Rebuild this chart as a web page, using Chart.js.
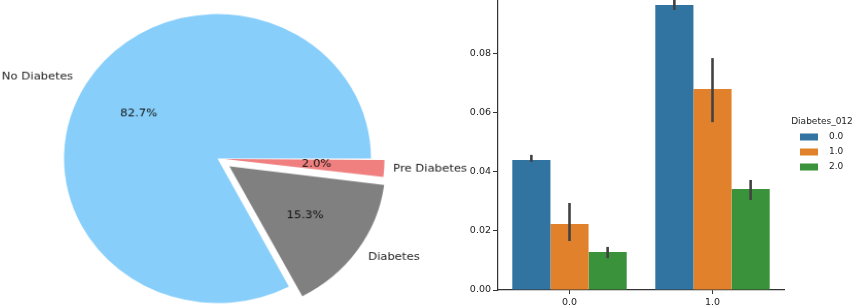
<!DOCTYPE html>
<html>
<head>
<meta charset="utf-8">
<script src="https://cdn.jsdelivr.net/npm/chart.js@4.4.0/dist/chart.umd.min.js"></script>
<style>
  html, body { margin: 0; padding: 0; background: #fff; }
  #wrap { position: relative; width: 856px; height: 308px; overflow: hidden; }
  #bar-chart { position: absolute; left: 440px; top: 0; }
  /* the source pie is slightly elliptical (figure was resized unevenly) */
  #pie-chart { position: absolute; left: 0; top: 0; z-index: 2;
               transform-origin: 217.5px 158.5px; transform: scale(1.03, 0.97); }
</style>
</head>
<body>
<div id="wrap">
  <canvas id="bar-chart" width="416" height="308"></canvas>
  <canvas id="pie-chart" width="470" height="308"></canvas>
</div>
<script>
// Pie data (drawn clockwise from 3 o'clock, so order is reversed vs matplotlib)
const pieLabels = ['Pre Diabetes', 'Diabetes', 'No Diabetes'];
const pieValues = [2.0, 15.3, 82.7];

// Bar data: x categories and hue groups
const categories = ['0.0', '1.0'];
const hueLabels = ['0.0', '1.0', '2.0'];
const meanNoDiab = [0.0441, 0.0966];
const meanPreDiab = [0.0224, 0.0681];
const meanDiab = [0.0129, 0.0342];
// confidence interval ends
const ciLow = [[0.0434, 0.0949], [0.0166, 0.0569], [0.0108, 0.0305]];
const ciHigh = [[0.0458, 0.0990], [0.0295, 0.0786], [0.0146, 0.0373]];
const yTicks = [0, 0.02, 0.04, 0.06, 0.08];

Chart.defaults.font.family = 'DejaVu Sans';
Chart.defaults.color = '#222';
Chart.defaults.animation = false;

// ---------- pie ----------
const pieColors = ['#f08080', '#808080', '#87cefa'];
const explode = [28, 56, 0]; // arc offset (chart.js divides by 4 when drawing)

const pieLabelPlugin = {
    id: 'pieLabels',
    afterDatasetsDraw(chart) {
        const ctx = chart.ctx;
        const meta = chart.getDatasetMeta(0);
        const total = pieValues.reduce((a, b) => a + b, 0);
        ctx.save();
        ctx.font = '11.3px "DejaVu Sans"';
        ctx.textBaseline = 'middle';
        meta.data.forEach((arc, i) => {
            const mid = (arc.startAngle + arc.endAngle) / 2;
            const off = explode[i] / 4;
            const cx = arc.x + Math.cos(mid) * off;
            const cy = arc.y + Math.sin(mid) * off;
            const r = arc.outerRadius;
            // percentage
            ctx.fillStyle = '#111';
            ctx.textAlign = 'center';
            ctx.fillText((pieValues[i] / total * 100).toFixed(1) + '%',
                cx + Math.cos(mid) * r * 0.6, cy + Math.sin(mid) * r * 0.6);
            // label
            const lx = cx + Math.cos(mid) * r * 1.1;
            const ly = cy + Math.sin(mid) * r * 1.1;
            ctx.fillStyle = '#222';
            ctx.textAlign = Math.cos(mid) > 0 ? 'left' : 'right';
            ctx.fillText(pieLabels[i], lx, ly);
        });
        ctx.restore();
    }
};

new Chart(document.getElementById('pie-chart'), {
    type: 'pie',
    data: {
        labels: pieLabels,
        datasets: [{
            data: pieValues,
            backgroundColor: pieColors,
            borderWidth: 0,
            offset: explode,
            hoverOffset: 0
        }]
    },
    options: {
        responsive: false,
        devicePixelRatio: 1,
        rotation: 90,
        radius: 149,
        layout: { padding: { left: 0, right: 35, top: 9, bottom: 0 } },
        plugins: { legend: { display: false }, tooltip: { enabled: false } },
        events: []
    },
    plugins: [pieLabelPlugin]
});

// ---------- bars ----------
const barColors = ['#3274a1', '#e1812c', '#3a923a'];

const errorBarPlugin = {
    id: 'errorBars',
    afterDatasetsDraw(chart) {
        const ctx = chart.ctx;
        const y = chart.scales.y;
        ctx.save();
        ctx.strokeStyle = '#424242';
        ctx.lineWidth = 2.6;
        chart.data.datasets.forEach((ds, i) => {
            chart.getDatasetMeta(i).data.forEach((bar, j) => {
                ctx.beginPath();
                ctx.moveTo(bar.x, y.getPixelForValue(ciLow[i][j]));
                ctx.lineTo(bar.x, y.getPixelForValue(ciHigh[i][j]));
                ctx.stroke();
            });
        });
        ctx.restore();
    }
};

const legendPlugin = {
    id: 'hueLegend',
    afterDraw(chart) {
        const ctx = chart.ctx;
        const left = chart.chartArea.right;
        ctx.save();
        ctx.font = '9px "DejaVu Sans"';
        ctx.fillStyle = '#222';
        ctx.textBaseline = 'middle';
        ctx.textAlign = 'center';
        ctx.fillText('Diabetes_012', left + 38, 122);
        ctx.textAlign = 'left';
        chart.data.datasets.forEach((ds, i) => {
            const yy = 137 + i * 15;
            ctx.fillStyle = ds.backgroundColor;
            ctx.fillRect(left + 16, yy - 3.5, 18, 7);
            ctx.fillStyle = '#222';
            ctx.fillText(ds.label, left + 45, yy);
        });
        ctx.restore();
    }
};

const means = [meanNoDiab, meanPreDiab, meanDiab];

new Chart(document.getElementById('bar-chart'), {
    type: 'bar',
    data: {
        labels: categories,
        datasets: hueLabels.map((h, i) => ({
            label: h,
            data: means[i],
            backgroundColor: barColors[i],
            borderWidth: 0,
            categoryPercentage: 0.8,
            barPercentage: 1.0
        }))
    },
    options: {
        responsive: false,
        devicePixelRatio: 1,
        layout: { padding: { left: 0, right: 72, top: 0, bottom: 0 } },
        plugins: { legend: { display: false }, tooltip: { enabled: false } },
        events: [],
        scales: {
            x: {
                offset: true,
                grid: { display: true, drawOnChartArea: false, drawTicks: true, tickLength: 4, color: '#333', offset: false },
                border: { display: true, color: '#333', width: 1.2 },
                ticks: { font: { size: 9.5 }, color: '#222', padding: 3, maxRotation: 0 },
                afterFit(scale) { scale.height = 18; scale.paddingLeft = 0; scale.paddingRight = 0; }
            },
            y: {
                min: 0,
                max: 0.0983,
                grid: { display: true, drawOnChartArea: false, drawTicks: true, tickLength: 5, color: '#333' },
                border: { display: true, color: '#333', width: 1.2 },
                ticks: { font: { size: 9.5 }, color: '#222', padding: 2, callback: v => v.toFixed(2) },
                afterBuildTicks(scale) { scale.ticks = yTicks.map(v => ({ value: v })); },
                afterFit(scale) { scale.width = 58; scale.paddingTop = 0; scale.paddingBottom = 0; }
            }
        }
    },
    plugins: [errorBarPlugin, legendPlugin]
});
</script>
</body>
</html>
